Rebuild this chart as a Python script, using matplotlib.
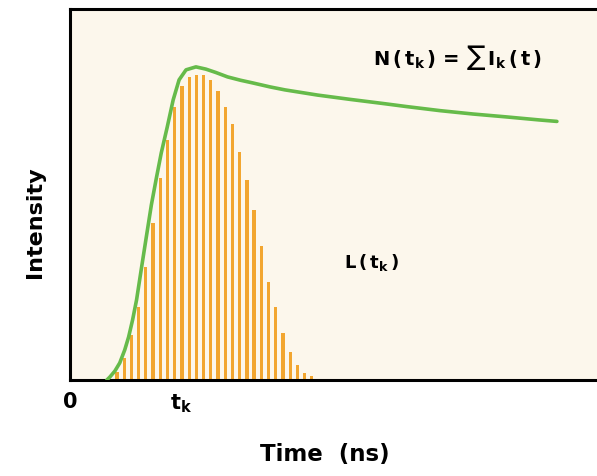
import numpy as np
import matplotlib
matplotlib.use('Agg')
import matplotlib.pyplot as plt

# Data (channel index, normalised intensity)
bar_channels = list(range(1, 29))
bar_heights = [0.022, 0.059, 0.122, 0.197, 0.305, 0.423, 0.544, 0.647, 0.736, 0.792,
               0.817, 0.822, 0.822, 0.809, 0.779, 0.736, 0.690, 0.615, 0.539, 0.458,
               0.361, 0.264, 0.197, 0.127, 0.075, 0.040, 0.019, 0.011]

curve_x = [-0.39, 0.02, 0.71, 1.39, 2.08, 2.62, 3.17, 3.72, 4.40, 5.09, 5.77,
           6.46, 7.14, 7.97, 8.79, 9.61, 10.57, 11.94, 13.31, 14.68, 16.32,
           18.11, 19.75, 22.21, 24.27, 28.79, 33.45, 37.97, 41.12, 45.77,
           50.29, 55.02, 59.47, 61.94]
curve_y = [0.0, 0.008, 0.024, 0.046, 0.081, 0.116, 0.162, 0.216, 0.302, 0.388, 0.472,
           0.544, 0.612, 0.682, 0.755, 0.809, 0.836, 0.844, 0.838, 0.829, 0.817,
           0.808, 0.801, 0.790, 0.782, 0.768, 0.756, 0.745, 0.737, 0.726,
           0.717, 0.709, 0.701, 0.697]

tick_pos = [-5.5, 9.9]
tick_labels = ['0', r'$\mathbf{t_k}$']

plt.rcParams['font.family'] = ['DejaVu Sans']
plt.rcParams['mathtext.fontset'] = 'dejavusans'

fig = plt.figure(figsize=(5.97, 4.76), dpi=100)
W, H = 597, 476
ax = fig.add_axes([70 / W, (H - 380) / H, 1.1, (380 - 9) / H])
ax.set_facecolor('#fcf7ec')

ax.bar(bar_channels, bar_heights, width=0.45, color='#f2a630', zorder=2)
ax.plot(curve_x, curve_y, color='#66bb4a', lw=2.6, solid_capstyle='round',
        solid_joinstyle='round', zorder=3)

ax.set_xlim(-4.5, -4.5 + 1.1 * W / 7.3)
ax.set_ylim(0, 1)

for s in ['left', 'top', 'bottom']:
    ax.spines[s].set_linewidth(2.2)
ax.spines['right'].set_visible(False)

ax.set_yticks([])
ax.set_xticks(tick_pos)
ax.set_xticklabels(tick_labels, fontsize=15, fontweight='bold')
ax.tick_params(axis='x', length=0, pad=9)

ax.text(48.2, 0.868, r'$\mathbf{N\,(\,t_k\,)\,=\,\sum\,I_k\,(\,t\,)}$',
        ha='center', va='center', fontsize=14)
ax.text(36.2, 0.318, r'$\mathbf{L\,(\,t_k\,)}$', ha='center', va='center', fontsize=13)

fig.text(325 / W, 1 - 455 / H, 'Time  (ns)', ha='center', va='center',
         fontsize=16.5, fontweight='bold')
fig.text(35 / W, 1 - 222 / H, 'Intensity', ha='center', va='center',
         fontsize=16, fontweight='bold', rotation=90)

fig.savefig('out.png', dpi=100, facecolor='white')
